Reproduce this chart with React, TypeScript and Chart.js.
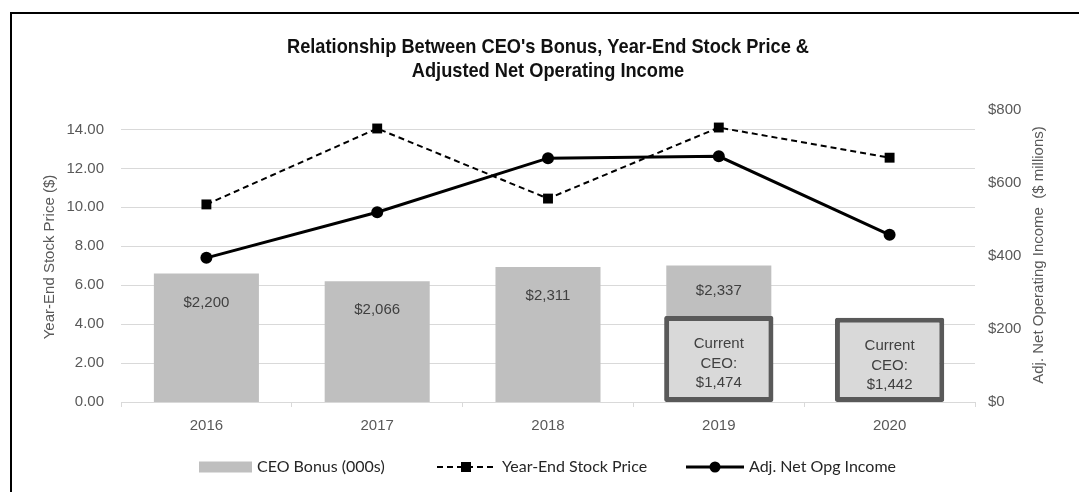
import React, { useEffect, useRef } from "react";
import { Chart, registerables } from "chart.js";

Chart.register(...registerables);

const years = ["2016", "2017", "2018", "2019", "2020"];
const ceoBonus: (number | null)[] = [2200, 2066, 2311, 2337, null];
const currentCeoBonus: (number | null)[] = [null, null, null, 1474, 1442];
const stockPrice = [10.15, 14.05, 10.45, 14.1, 12.55];
const netOpgIncome = [395, 520, 668, 673, 458];

const titleLines = [
  "Relationship Between CEO's Bonus, Year-End Stock Price &",
  "Adjusted Net Operating Income",
];
const leftAxisTitle = "Year-End Stock Price ($)";
const rightAxisTitle = "Adj. Net Operating Income  ($ millions)";
const legendLabels = ["CEO Bonus (000s)", "Year-End Stock Price", "Adj. Net Opg Income"];
const currentCeoLabel = ["Current", "CEO:"];

const BAR_GRAY = "#BFBFBF";
const BOX_FILL = "#D9D9D9";
const BOX_BORDER = "#595959";
const GRID = "#D9D9D9";
const AXIS_TEXT = "#595959";
const SANS = '"Liberation Sans", Arial, sans-serif';

const fmtMoney = (v: number) => "$" + v.toLocaleString("en-US");

const decorPlugin = {
  id: "decor",
  beforeDraw(chart: any) {
    const ctx = chart.ctx;
    ctx.save();
    ctx.fillStyle = "#ffffff";
    ctx.fillRect(0, 0, chart.width, chart.height);
    ctx.fillStyle = "#000000";
    ctx.fillRect(10, 12, 2, chart.height - 12);
    ctx.fillRect(10, 12, chart.width - 10, 2);
    ctx.restore();
  },
  afterDatasetsDraw(chart: any) {
    const ctx = chart.ctx;
    const barMeta = chart.getDatasetMeta(0);
    const boxMeta = chart.getDatasetMeta(1);
    ctx.save();
    ctx.textAlign = "center";
    ctx.textBaseline = "middle";
    ctx.fillStyle = "#404040";
    ctx.font = `15px ${SANS}`;
    ceoBonus.forEach((v, i) => {
      if (v == null) return;
      const bar = barMeta.data[i];
      let y = bar.y + 29;
      if (currentCeoBonus[i] != null) {
        const box = boxMeta.data[i];
        y = (bar.y + box.y) / 2;
      }
      ctx.fillText(fmtMoney(v), bar.x, y);
    });
    currentCeoBonus.forEach((v, i) => {
      if (v == null) return;
      const box = boxMeta.data[i];
      const lines = [...currentCeoLabel, fmtMoney(v)];
      lines.forEach((t, k) => ctx.fillText(t, box.x, box.y + 28 + 19.7 * k));
    });
    ctx.restore();
  },
  afterDraw(chart: any) {
    const ctx = chart.ctx;
    const area = chart.chartArea;
    ctx.save();
    // title
    ctx.fillStyle = "#111111";
    ctx.textAlign = "center";
    ctx.textBaseline = "alphabetic";
    ctx.font = `bold 21px "Liberation Sans Narrow", ${SANS}`;
    const w1 = ctx.measureText(titleLines[0]).width;
    const sx = Math.min(1, 522 / w1);
    const cx = 548;
    [53, 77].forEach((by, k) => {
      ctx.save();
      ctx.translate(cx, by);
      ctx.scale(sx, 1);
      ctx.fillText(titleLines[k], 0, 0);
      ctx.restore();
    });
    // axis titles
    ctx.fillStyle = AXIS_TEXT;
    ctx.font = `15px ${SANS}`;
    ctx.textBaseline = "middle";
    const midY = (area.top + area.bottom) / 2;
    ctx.save();
    ctx.translate(50, midY + 1);
    ctx.rotate(-Math.PI / 2);
    ctx.fillText(leftAxisTitle, 0, 0);
    ctx.restore();
    ctx.save();
    ctx.translate(1039, midY - 1);
    ctx.rotate(-Math.PI / 2);
    ctx.fillText(rightAxisTitle, 0, 0);
    ctx.restore();
    // legend
    const ly = 467;
    ctx.font = `16px Lato, "Open Sans", sans-serif`;
    ctx.textAlign = "left";
    const ds = chart.data.datasets;
    // bar item
    ctx.fillStyle = ds[0].backgroundColor;
    ctx.fillRect(199, ly - 5.5, 53, 11);
    ctx.fillStyle = "#262626";
    ctx.fillText(legendLabels[0], 257, ly);
    // dashed item
    ctx.strokeStyle = ds[2].borderColor;
    ctx.lineWidth = ds[2].borderWidth;
    ctx.setLineDash(ds[2].borderDash);
    ctx.beginPath();
    ctx.moveTo(437, ly);
    ctx.lineTo(495, ly);
    ctx.stroke();
    ctx.setLineDash([]);
    ctx.fillStyle = "#000";
    ctx.fillRect(466 - 5, ly - 5, 10, 10);
    ctx.fillStyle = "#262626";
    ctx.fillText(legendLabels[1], 502, ly);
    // solid item
    ctx.strokeStyle = ds[3].borderColor;
    ctx.lineWidth = ds[3].borderWidth;
    ctx.beginPath();
    ctx.moveTo(686, ly);
    ctx.lineTo(744, ly);
    ctx.stroke();
    ctx.fillStyle = "#000";
    ctx.beginPath();
    ctx.arc(715, ly, 5.5, 0, Math.PI * 2);
    ctx.fill();
    ctx.fillStyle = "#262626";
    ctx.fillText(legendLabels[2], 749, ly);
    ctx.restore();
  },
};

export default function App() {
  const ref = useRef<HTMLCanvasElement | null>(null);

  useEffect(() => {
    if (!ref.current) return;
    const tickFont = { family: SANS, size: 15 };
    const chart = new Chart(ref.current, {
      type: "bar",
      data: {
        labels: years,
        datasets: [
          {
            type: "bar",
            label: legendLabels[0],
            data: ceoBonus,
            yAxisID: "yb",
            backgroundColor: BAR_GRAY,
            borderWidth: 0,
            grouped: false,
            categoryPercentage: 1,
            barPercentage: 0.615,
            order: 3,
          },
          {
            type: "bar",
            label: "Current CEO",
            data: currentCeoBonus,
            yAxisID: "yb",
            backgroundColor: BOX_FILL,
            borderColor: BOX_BORDER,
            borderWidth: 5,
            borderSkipped: false,
            borderRadius: 2,
            grouped: false,
            categoryPercentage: 1,
            barPercentage: 0.64,
            order: 2,
          },
          {
            type: "line",
            label: legendLabels[1],
            data: stockPrice,
            yAxisID: "y",
            borderColor: "#000000",
            borderWidth: 2,
            borderDash: [6, 4],
            pointStyle: "rect",
            pointRadius: 7,
            pointBackgroundColor: "#000000",
            pointBorderColor: "#000000",
            pointBorderWidth: 0,
            tension: 0,
            order: 1,
          },
          {
            type: "line",
            label: legendLabels[2],
            data: netOpgIncome,
            yAxisID: "y2",
            borderColor: "#000000",
            borderWidth: 3,
            pointStyle: "circle",
            pointRadius: 6,
            pointBackgroundColor: "#000000",
            pointBorderColor: "#000000",
            pointBorderWidth: 0,
            tension: 0,
            order: 0,
          },
        ] as any,
      },
      options: {
        responsive: false,
        animation: false,
        devicePixelRatio: 1,
        layout: { padding: { top: 110, bottom: 60, left: 0, right: 0 } },
        plugins: {
          legend: { display: false },
          tooltip: { enabled: false },
          title: { display: false },
        },
        scales: {
          x: {
            type: "category",
            offset: true,
            grid: {
              display: true,
              offset: true,
              drawOnChartArea: false,
              drawTicks: true,
              tickLength: 5,
              color: GRID,
            },
            border: { display: true, color: GRID },
            ticks: { font: tickFont, color: AXIS_TEXT, padding: 10 },
            afterFit: (s: any) => {
              s.height = 30;
            },
          },
          y: {
            position: "left",
            min: 0,
            max: 15,
            ticks: {
              stepSize: 2,
              font: tickFont,
              color: AXIS_TEXT,
              padding: 17,
              callback: (v: any) => Number(v).toFixed(2),
            },
            afterBuildTicks: (s: any) => {
              s.ticks = s.ticks.filter((t: any) => t.value <= 14);
            },
            grid: { color: GRID, drawTicks: false, lineWidth: 1 },
            border: { display: false },
            afterFit: (s: any) => {
              s.width = 121;
            },
          },
          y2: {
            position: "right",
            min: 0,
            max: 800,
            ticks: {
              stepSize: 200,
              font: tickFont,
              color: AXIS_TEXT,
              padding: 13,
              callback: (v: any) => "$" + v,
            },
            grid: { drawOnChartArea: false, drawTicks: false },
            border: { display: false },
            afterFit: (s: any) => {
              s.width = 104;
            },
          },
          yb: {
            display: false,
            min: 0,
            max: 5000,
          },
        } as any,
      },
      plugins: [decorPlugin],
    });
    return () => chart.destroy();
  }, []);

  return (
    <div style={{ position: "absolute", left: 0, top: 0, width: 1079, height: 492, background: "#fff" }}>
      <canvas ref={ref} width={1079} height={492} style={{ display: "block", width: 1079, height: 492 }} />
    </div>
  );
}
